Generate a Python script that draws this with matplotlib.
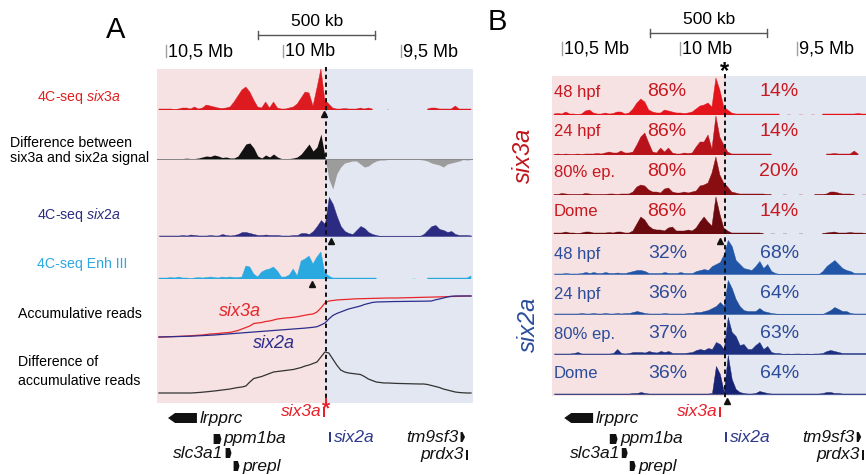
import numpy as np
import matplotlib.pyplot as plt
from matplotlib.patches import Polygon

plt.rcParams['font.family'] = ['Liberation Sans', 'DejaVu Sans']
plt.rcParams['mathtext.fontset'] = 'custom'
plt.rcParams['mathtext.rm'] = 'Liberation Sans'
plt.rcParams['mathtext.it'] = 'Liberation Sans:italic'

W, H = 866, 475
nan = np.nan

# genomic window in Mb (left edge, right edge)
window_a = (10.538, 9.193)
window_b = (10.543, 9.198)
boundary_a = 9.819
boundary_b = 9.807
six3a_vp = 9.826
six2a_vp = 9.799
enh3_vp = 9.878
tick_mb = [10.5, 10.0, 9.5]
tick_labels = ['10,5 Mb', '10 Mb', '9,5 Mb']
scalebar_a = (10.108, 9.608)
scalebar_b = (10.126, 9.626)

# ---- panel A tracks (80 bins across the window) ----
a_six3a = [1, 1, 1, 1, 0.5, 1, 2, 2, 1, 3,
           1, 2, 5, 4, 3, 2, 1.5, 2, 3, 8,
           14, 20, 23, 18, 10, 3, 2, 8, 2, 8,
           2, 1, 1, 2, 3, 6, 12, 18, 17, 4,
           22, 41, 10, 6, 2, 1, 1, 1.5, 1, 1,
           1, 2, 1, 2, 1, nan, nan, nan, 1, nan,
           nan, nan, nan, nan, nan, nan, nan, nan, 1, 2,
           2, 1, 1, 1, 1, 4, 1, 1, 1, 1]
a_diff = [0.3, 0.3, 0.5, 0.3, 0.5, 0.3, 0.5, 0.8, 0.5, 0.5,
          1, 2, 3, 2.5, 4, 3, 1.5, 2, 1, 1,
          3, 9, 15, 16, 11, 3, 1, 4, 2, 5,
          2, 0.5, 0.5, 0.5, 1, 2, 5, 10, 15, 8,
          12, 25, 3, -20, -30, -15, -8, -4, -3, -2,
          -2, -5, -8, -7, -4, -2, -1, -1, -0.5, -0.5,
          -0.5, -0.5, -0.5, -0.5, -0.5, -0.5, -0.5, -1, -2, -4,
          -5, -6, -8, -5, -4, -3, -2, -0.5, -1, -0.5]
a_six2a = [0.5, 0.5, 0.5, 0.5, 0.5, 0.5, 1, 0.5, 1.5, 1,
           0.5, 0.5, 0.5, 1, 0.5, 0.5, 2, 1, 0.5, 1,
           2, 4, 4, 3, 2, 1, 1, 1.5, 1, 1,
           1, 0.5, 0.5, 0.5, 1, 1, 3, 3, 2, 5,
           10, 16, 12, 39, 32, 20, 10, 5, 3, 2,
           6, 10, 8, 4, 2, 1, 0, 0, 0, 0,
           0, 0, 0, 0, 0, 0, 0, 2, 6, 10,
           11, 7, 6, 4, 5, 2, 1, 1, 1, 0.5]
a_enh3 = [1, 1, 1, 1.5, 1, 2, 1, 1, 0.5, 1,
          1.5, 1, 1.5, 2, 1.5, 1, 2, 1.5, 2, 1.5,
          1.5, 2, 13, 12, 5, 2, 7, 9, 10, 12,
          8, 2, 2, 4, 10, 3, 18, 20, 23, 15,
          22, 27, 6, 3, 1, 1, 1, 1, 1, 1,
          1, 1, 1, 1, 1, 1, nan, nan, nan, nan,
          nan, nan, nan, nan, 0.5, 0.5, nan, nan, 1, 1,
          1, 1, 1, 1, 1, 1, 1, 1, 1, 3]
a_accum_six3a = [3, 3, 3.2, 3.3, 3.5, 3.6, 3.8, 4, 4.2, 4.5,
                 4.8, 5, 5.5, 6, 6.2, 6.5, 7, 7.3, 7.6, 8.5,
                 9.5, 11, 12.5, 14, 16.5, 17, 17.5, 18.5, 19, 20,
                 21, 21.5, 22, 22.3, 22.7, 23.2, 24, 24.8, 25.5, 26,
                 28, 32, 37, 39, 39.5, 40, 40.3, 40.5, 40.7, 41,
                 41.2, 41.3, 41.4, 41.5, 41.6, 41.7, 41.8, 41.9, 42, 42,
                 42, 42.1, 42.2, 42.3, 42.4, 42.5, 42.6, 42.7, 42.8, 42.9,
                 43, 43.1, 43.2, 43.4, 43.5, 43.6, 43.8, 43.9, 44, 44]
a_accum_six2a = [3, 3.1, 3.2, 3.3, 3.4, 3.5, 3.6, 3.7, 3.8, 4,
                 4.2, 4.4, 4.6, 4.8, 5, 5.3, 5.6, 5.9, 6.2, 6.5,
                 6.8, 7.1, 7.4, 7.7, 8, 8.3, 8.6, 8.9, 9.2, 9.5,
                 9.8, 10.1, 10.4, 10.7, 11, 11.3, 11.6, 11.9, 12.3, 12.7,
                 13.3, 15, 17, 21, 24.5, 26.5, 28, 29.5, 31, 32,
                 33, 34, 35.5, 36.5, 37.5, 38, 38.1, 38.2, 38.3, 38.4,
                 38.5, 38.5, 38.6, 38.6, 38.7, 38.7, 38.8, 38.8, 38.9, 39,
                 40.2, 41, 42, 43, 43.7, 44, 44, 44, 44, 44]
a_accum_diff = [2, 2, 2, 2, 2, 2, 2, 2, 2, 2.2,
                2.5, 2.8, 3.2, 3.6, 4, 4.5, 5, 5.5, 6, 6.8,
                7.5, 8, 9, 13, 16.5, 17.5, 18.5, 20, 21.5, 23,
                23.5, 24, 24.5, 25, 25.5, 26.5, 27.5, 29, 30, 31.5,
                33, 38, 43, 42, 36, 30, 25, 23, 22, 21.5,
                21, 20.5, 18.5, 16, 14.5, 13, 12.5, 12, 12, 11.8,
                11.6, 11.5, 11.4, 11.3, 11.2, 11.1, 11, 11, 10.5, 9.5,
                8.5, 7.5, 6, 5, 4, 3, 2.5, 2.2, 2, 2]

# ---- panel B tracks ----
stages = ['48 hpf', '24 hpf', '80% ep.', 'Dome']
b_six3a = [
    [1, 1.5, 1, 3, 1, 1, 0.5, 1, 4, 5,
     2, 1, 1, 2, 1, 1.5, 3, 3, 1, 2,
     6, 12, 16, 13, 5, 3, 2, 2, 5, 4,
     3, 2, 2, 1.5, 2, 3, 6, 9, 10, 12,
     8, 37, 25, 8, 5, 2, 1, 1, 1, 1,
     1, 1, 1, 1, 1, 1, 1, 1, nan, 0.5,
     0.5, nan, 0.5, 0.5, nan, 0.5, 0.5, nan, 1, 1,
     1, 1, 1, 1, 1, 1, 1, 1.5, 1, 1],
    [0.5, 1, 0.5, 1, 0.5, 0.5, 1, 0.5, 1, 1,
     1, 1.5, 1, 2, 3, 2, 2, 4, 2, 2,
     3, 10, 18, 22, 12, 3, 2, 7, 3, 7,
     2, 1, 1, 2, 1.5, 2, 8, 13, 13, 20,
     6, 39, 18, 10, 3, 1, 1, 1, 1, 1,
     1, 1, 1, 1, 1, 1, nan, nan, nan, nan,
     nan, nan, nan, nan, nan, nan, nan, nan, nan, 1,
     1, 1.5, 1, 1, 1, 1, 4, 1, nan, nan],
    [0.5, 0.5, 1.5, 1, 0.5, 0.5, 0.5, 0.5, 1.5, 1,
     0.5, 0.5, 0.5, 0.5, 1, 1, 0.5, 1, 1, 1,
     3, 8, 10, 9, 5, 3, 3, 2, 6, 7,
     3, 2, 2, 3, 2, 3, 4, 9, 10, 12,
     22, 38, 20, 12, 8, 3, 2, 1, 1, 1,
     1, 1, 1, 1, 0.5, 0.5, nan, nan, 0.5, 0.5,
     nan, nan, 0.5, 0.5, nan, nan, 0.5, 0.5, 0.5, 1,
     3, 3, 2, 1, 1, 1, 0.5, nan, 0.5, 0.5],
    [1, 1, 1, 2, 1, 1, 0.5, 1, 2, 2,
     1, 1, 1, 1, 1.5, 1, 2, 2, 1, 1,
     3, 10, 17, 14, 8, 5, 4, 4, 3, 6,
     7, 3, 3, 3, 4, 3, 6, 12, 17, 12,
     8, 37, 20, 6, 3, 1, 1, 1, 1, 1,
     1, 1, 1, 0.5, nan, 0.5, 0.5, nan, 0.5, 0.5,
     nan, nan, 0.5, 0.5, nan, nan, nan, nan, 0.5, 1,
     1.5, 2, 1, 1, 1, 1.5, 1, 1, 1, 0.5],
]
b_six2a = [
    [0.5, 0.5, 0.5, 1, 0.5, 0.5, 0.5, 1, 2, 1,
     2, 1, 1, 2, 1, 1, 1.5, 1, 1, 2,
     3, 4, 4, 3, 1, 1, 1, 1, 2, 1,
     1, 1, 2, 1, 1, 1, 3, 4, 5, 4,
     8, 10, 12, 20, 34, 28, 14, 10, 6, 5,
     4, 8, 13, 6, 10, 3, 1, 0, 0, 0,
     0, 0, 0, 0, 0, 0, 0, 0, 3, 8,
     11, 14, 10, 6, 4, 3, 1, 1, 1, 1],
    [0.5, 0.5, 0.5, 0.5, 0.5, 0.5, 0.5, 1, 0.5, 0.5,
     1, 0.5, 0.5, 1, 0.5, 0.5, 1, 0.5, 1, 1,
     2, 3, 2, 1, 0.5, 0.5, 0.5, 0.5, 1, 0.5,
     0.5, 0.5, 0.5, 0.5, 1, 1, 2, 2, 3, 4,
     6, 8, 12, 8, 34, 26, 15, 8, 4, 3,
     3, 3, 6, 3, 2, 1, 0.5, 0, 0, 0,
     0, 0, 0, 0, 0, 0, 0, 0, 0, 2,
     4, 7, 5, 3, 3, 1, 0.5, 0.5, 0.5, 0.5],
    [0.5, 0.5, 0.5, 0.5, 0.5, 1, 2, 0.5, 0.5, 0.5,
     0.5, 0.5, 0.5, 0.5, 0.5, 1, 5, 1, 0.5, 1,
     2, 2, 2, 1.5, 3, 2, 1.5, 3, 2, 3,
     1, 1, 1, 1, 1.5, 2, 4, 5, 4, 6,
     5, 12, 10, 5, 37, 22, 18, 9, 10, 5,
     5, 9, 12, 5, 8, 2, 1, 1, 0, 0.5,
     0, 0.5, 0.5, 0, 0.5, 0, 0.5, 0.5, 1, 3,
     4, 3, 2, 1, 1, 1, 1, 1, 1, 1],
    [0.5, 0.5, 0.5, 0.5, 0.5, 0.5, 0.5, 0.5, 0.5, 0.5,
     0.5, 0.5, 0.5, 0.5, 0.5, 0.5, 0.5, 0.5, 0.5, 0.5,
     1, 1, 2, 1, 0.5, 0.5, 0.5, 0.5, 0.5, 0.5,
     0.5, 0.5, 0.5, 0.5, 0.5, 0.5, 0.5, 0.5, 0.5, 0.5,
     1, 28, 20, 2, 39, 15, 5, 2, 1, 0.5,
     0.5, 1, 3, 2, 1, 0.5, 0.5, 0.5, 0.5, 0.5,
     0.5, 0.5, 0.5, 0.5, 0.5, 0.5, 0.5, 0.5, 1, 2,
     2, 1, 1, 0.5, 0.5, 0.5, 0.5, 0.5, 0.5, 0.5],
]
six3a_pct_left = ['86%', '86%', '80%', '86%']
six3a_pct_right = ['14%', '14%', '20%', '14%']
six2a_pct_left = ['32%', '36%', '37%', '36%']
six2a_pct_right = ['68%', '64%', '63%', '64%']

# ---- genes (Mb) ----
gene_names = ['lrpprc', 'ppm1ba', 'slc3a1', 'prepl', 'six3a', 'six2a', 'tm9sf3', 'prdx3']
gene_start = [10.491, 10.297, 10.246, 10.212, 9.831, 9.806, 9.246, 9.223]
gene_end = [10.368, 10.264, 10.221, 10.187, 9.823, 9.797, 9.227, 9.214]

# layout / styles
gene_row = [418, 439, 453, 466, 412, 437, 437, 455]
gene_shape = ['arrow_left', 'box', 'box', 'box', 'bar', 'bar', 'arrow_right', 'bar']
gene_side = ['right', 'right', 'left', 'right', 'left', 'right', 'left', 'left']
gene_color = ['#111111'] * 4 + ['#e8202a', '#2e3a8c', '#111111', '#111111']

PINK = '#f6e2e2'
BLUE = '#e3e7f1'
RED = '#dc1a20'
NAVY = '#2c2b82'
SKY = '#2aa8e0'
b_red = ['#e3141c', '#b8121b', '#8a0d12', '#6a0a0e']
b_blue = ['#2055a8', '#1f4c9c', '#1c2f80', '#162272']
LAB_RED = '#c8171f'
LAB_BLUE = '#2b4c9b'
TRACK_W = 316
N_BINS = 80

fig = plt.figure(figsize=(W / 100, H / 100), dpi=100)


def rect(x0, y0, x1, y1):
    return [x0 / W, 1 - y1 / H, (x1 - x0) / W, (y1 - y0) / H]


def ftext(x, y, s, **kw):
    return fig.text(x / W, 1 - y / H, s, **kw)


def panel_axes(x0, window, z):
    ax = fig.add_axes(rect(x0, 0, x0 + TRACK_W, H), zorder=z)
    ax.set_xlim(window)
    ax.set_ylim(H, 0)
    ax.axis('off')
    ax.patch.set_alpha(0)
    return ax


def track_axes(x0, window, base, up, down=0):
    ax = fig.add_axes(rect(x0, base - up, x0 + TRACK_W, base + down), zorder=1)
    ax.set_xlim(window)
    ax.set_ylim(-down, up)
    ax.axis('off')
    ax.patch.set_alpha(0)
    return ax


def centers(window):
    edges = np.linspace(window[0], window[1], N_BINS + 1)
    return (edges[:-1] + edges[1:]) / 2


def signal(ax, x, vals, color, baseline=False):
    v = np.array(vals, dtype=float)
    ax.fill_between(x, 0, v, color=color, lw=0.3, edgecolor=color)
    if baseline:
        ax.axhline(0, color=color, lw=0.8, alpha=0.8)


def ruler(ax, window, bar, bar_y, tick_y0, tick_y1):
    mpp = (window[0] - window[1]) / TRACK_W
    ax.plot([bar[0], bar[1]], [bar_y, bar_y], color='#555555', lw=1, clip_on=False)
    for xb in bar:
        ax.plot([xb, xb], [bar_y - 4, bar_y + 4], color='#555555', lw=1, clip_on=False)
    ax.text((bar[0] + bar[1]) / 2, bar_y - 6, '500 kb', ha='center', va='bottom', fontsize=12.5)
    for t, lab in zip(tick_mb, tick_labels):
        ax.plot([t, t], [tick_y0, tick_y1], color='#a0a0a0', lw=1, clip_on=False)
        ax.text(t - 2 * mpp, (tick_y0 + tick_y1) / 2 + 1, lab, ha='left', va='center', fontsize=13)


def genes(ax, window):
    mpp = (window[0] - window[1]) / TRACK_W
    for name, s, e, row, shape, side, col in zip(gene_names, gene_start, gene_end, gene_row,
                                                  gene_shape, gene_side, gene_color):
        if shape == 'arrow_left':
            hd = 7 * mpp
            pts = [(s, row), (s - hd, row - 5), (e, row - 5), (e, row + 5), (s - hd, row + 5)]
        elif shape == 'arrow_right':
            hd = 2.5 * mpp
            pts = [(e, row), (e + hd, row - 5), (s, row - 5), (s, row + 5), (e + hd, row + 5)]
        elif shape == 'box':
            pts = [(s, row - 5), (e + 1.5 * mpp, row - 5), (e, row), (e + 1.5 * mpp, row + 5), (s, row + 5)]
        else:
            pts = [(s, row - 5), (e, row - 5), (e, row + 5), (s, row + 5)]
        ax.add_patch(Polygon(pts, closed=True, color=col, lw=0, clip_on=False))
        if side == 'right':
            ax.text(e - 2.5 * mpp, row, name, ha='left', va='center', fontsize=12.5,
                    style='italic', color=col)
        else:
            ax.text(s + 2 * mpp, row, name, ha='right', va='center', fontsize=12.5,
                    style='italic', color=col)


# ================= panel A =================
xa = 157
bg = panel_axes(xa, window_a, 0)
bg.fill_betweenx([69, 403], window_a[0], boundary_a, color=PINK, lw=0)
bg.fill_betweenx([69, 403], boundary_a, window_a[1], color=BLUE, lw=0)

ca = centers(window_a)
ax = track_axes(xa, window_a, 110, 41)
signal(ax, ca, a_six3a, RED)

ax = track_axes(xa, window_a, 159, 30, 32)
d = np.array(a_diff, dtype=float)
ax.fill_between(ca, 0, d, where=d >= 0, interpolate=True, color='#111111', lw=0)
ax.fill_between(ca, 0, d, where=d <= 0, interpolate=True, color='#9c9c9c', lw=0)
ax.axhline(0, color='#888888', lw=0.7)

ax = track_axes(xa, window_a, 236, 39)
signal(ax, ca, a_six2a, NAVY, baseline=True)

ax = track_axes(xa, window_a, 279, 27)
signal(ax, ca, a_enh3, SKY)

ax = track_axes(xa, window_a, 340, 45)
ax.plot(ca, a_accum_six3a, color='#e8262b', lw=0.9)
ax.plot(ca, a_accum_six2a, color='#2d2e8c', lw=0.9)

ax = track_axes(xa, window_a, 395, 45)
ax.plot(ca, a_accum_diff, color='#333333', lw=0.9)

ov = panel_axes(xa, window_a, 3)
ov.plot([boundary_a, boundary_a], [67, 399], color='#111111', lw=1.4, ls=(0, (2.2, 1.8)), clip_on=False)
ov.plot([boundary_a, boundary_a], [399, 404], color='#e8202a', lw=1.4, clip_on=False)
ov.text(boundary_a, 409, '*', color='#e8202a', ha='center', va='center', fontsize=15, fontweight='bold')
for vp, y in [(six3a_vp, 114), (six2a_vp, 241), (enh3_vp, 284)]:
    ov.plot([vp], [y], marker='^', color='#111111', ms=4.5, clip_on=False)
ruler(ov, window_a, scalebar_a, 35, 45, 57)
genes(ov, window_a)

ftext(116, 30, 'A', ha='center', va='center', fontsize=21)
ftext(37, 97, '4C-seq $\\mathit{six3a}$', color='#e0201f', va='center', fontsize=10.2)
ftext(10, 143, 'Difference between', va='center', fontsize=10.2)
ftext(10, 158, 'six3a and six2a signal', va='center', fontsize=10.2)
ftext(37, 215, '4C-seq $\\mathit{six2a}$', color=NAVY, va='center', fontsize=10.2)
ftext(37, 264, '4C-seq Enh III', color=SKY, va='center', fontsize=10.2)
ftext(18, 314, 'Accumulative reads', va='center', fontsize=10.2)
ftext(18, 362, 'Difference of', va='center', fontsize=10.2)
ftext(18, 381, 'accumulative reads', va='center', fontsize=10.2)
ftext(219, 312, 'six3a', color='#e8262b', style='italic', va='center', fontsize=13)
ftext(253, 343, 'six2a', color='#2d2e8c', style='italic', va='center', fontsize=13)

# ================= panel B =================
xb = 552
bg = panel_axes(xb, window_b, 0)
bg.fill_betweenx([76, 396], window_b[0], boundary_b, color=PINK, lw=0)
bg.fill_betweenx([76, 396], boundary_b, window_b[1], color=BLUE, lw=0)

cb = centers(window_b)
bases = [115, 155, 195, 234, 274, 314, 354, 394]
for i in range(4):
    ax = track_axes(xb, window_b, bases[i], 40)
    signal(ax, cb, b_six3a[i], b_red[i])
    ax.axhline(0, color=b_red[i], lw=0.6, alpha=0.5)
    y = bases[i] - 23
    ftext(554, y, stages[i], color=LAB_RED, va='center', fontsize=12)
    ftext(667, y, six3a_pct_left[i], color=LAB_RED, ha='center', va='center', fontsize=14)
    ftext(779, y, six3a_pct_right[i], color=LAB_RED, ha='center', va='center', fontsize=14)
for i in range(4):
    ax = track_axes(xb, window_b, bases[4 + i], 40)
    signal(ax, cb, b_six2a[i], b_blue[i], baseline=True)
    y = bases[4 + i] - 20
    ftext(554, y, stages[i], color=LAB_BLUE, va='center', fontsize=12)
    ftext(668, y, six2a_pct_left[i], color=LAB_BLUE, ha='center', va='center', fontsize=14)
    ftext(780, y, six2a_pct_right[i], color=LAB_BLUE, ha='center', va='center', fontsize=14)

ov = panel_axes(xb, window_b, 3)
ov.plot([boundary_b, boundary_b], [74, 398], color='#111111', lw=1.4, ls=(0, (2.2, 1.8)), clip_on=False)
ov.text(boundary_b, 72, '*', ha='center', va='center', fontsize=17, fontweight='bold')
ov.plot([six3a_vp], [241], marker='^', color='#111111', ms=5, clip_on=False)
ov.plot([six2a_vp], [401], marker='^', color='#111111', ms=5, clip_on=False)
ruler(ov, window_b, scalebar_b, 33, 42, 55)
genes(ov, window_b)

ftext(497, 22, 'B', ha='center', va='center', fontsize=21)
ftext(523, 155, 'six3a', color='#c0141a', style='italic', rotation=90, ha='center', va='center', fontsize=17)
ftext(528, 324, 'six2a', color='#2a4c9c', style='italic', rotation=90, ha='center', va='center', fontsize=17)

fig.savefig('out.png', dpi=100)
